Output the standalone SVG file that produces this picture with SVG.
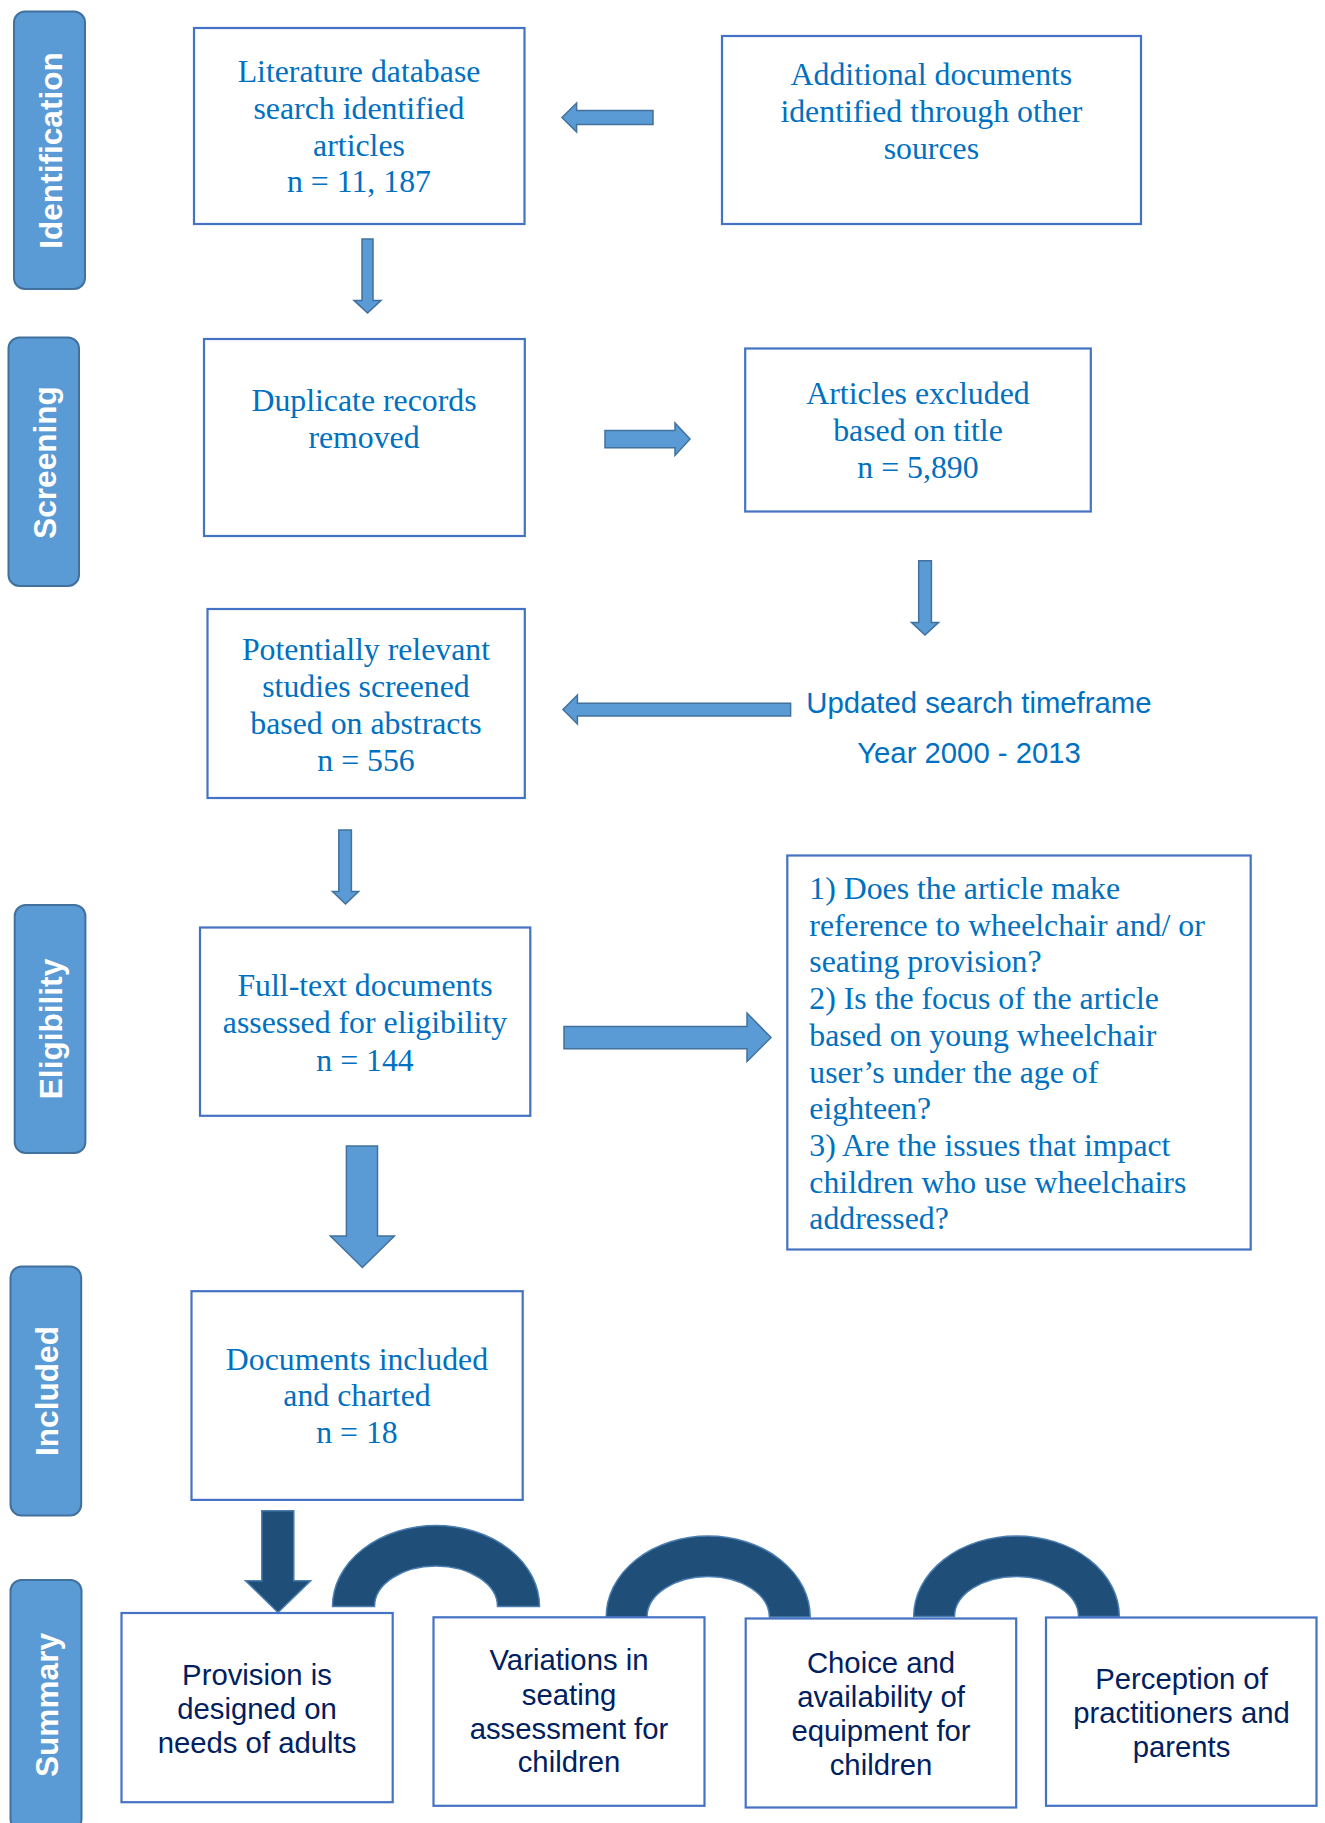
<svg xmlns="http://www.w3.org/2000/svg" width="1325" height="1823" viewBox="0 0 1325 1823">
<style>
.box{fill:#fff;stroke:#4472C4;stroke-width:2.2}
.lbl{fill:#5B9BD5;stroke:#41719C;stroke-width:2}
.lt{font-family:"Liberation Sans",Arial,sans-serif;font-weight:bold;font-size:31.6px;fill:#fff;text-anchor:middle}
.ser{font-family:"Liberation Serif","Times New Roman",serif;font-size:31.8px;fill:#0070C0;text-anchor:middle}
.serl{font-family:"Liberation Serif","Times New Roman",serif;font-size:31.8px;fill:#0070C0}
.san{font-family:"Liberation Sans",Arial,sans-serif;font-size:29.3px;fill:#0070C0}
.sum{font-family:"Liberation Sans",Arial,sans-serif;font-size:29.3px;fill:#002060;text-anchor:middle}
.arr{fill:#5B9BD5;stroke:#41719C;stroke-width:1.5}
.dark{fill:#1F4E79;stroke:#4A7EB0;stroke-width:1.5}
</style>

<g id="label-identification"><rect class="lbl" x="14" y="11.5" width="71" height="277.5" rx="11"/><text class="lt" transform="translate(61.5,150.5) rotate(-90)">Identification</text></g>
<g id="label-screening"><rect class="lbl" x="8.5" y="337.5" width="70.5" height="248.5" rx="11"/><text class="lt" transform="translate(56,462.5) rotate(-90)">Screening</text></g>
<g id="label-eligibility"><rect class="lbl" x="14.7" y="905" width="70.7" height="248" rx="11"/><text class="lt" transform="translate(62,1029) rotate(-90)">Eligibility</text></g>
<g id="label-included"><rect class="lbl" x="10.5" y="1266.5" width="70.7" height="249" rx="11"/><text class="lt" transform="translate(57.5,1391) rotate(-90)">Included</text></g>
<g id="label-summary"><rect class="lbl" x="10.5" y="1580" width="71" height="250" rx="11"/><text class="lt" transform="translate(58,1705) rotate(-90)">Summary</text></g>

<g id="connectors">
<polygon class="arr" points="562,117.5 576.6,103 576.6,110.5 653,110.5 653,124.5 576.6,124.5 576.6,132"/>
<polygon class="arr" points="362,239 373,239 373,300.4 381,300.4 367.5,313 354,300.4 362,300.4"/>
<polygon class="arr" points="605,430.5 675,430.5 675,423 690,439 675,455.4 675,447.8 605,447.8"/>
<polygon class="arr" points="918.7,560.7 931.4,560.7 931.4,622.4 938.6,622.4 925,635 911.5,622.4 918.7,622.4"/>
<polygon class="arr" points="563,709.5 577.4,695 577.4,703.2 790.6,703.2 790.6,716 577.4,716 577.4,724"/>
<polygon class="arr" points="338.8,830 351.4,830 351.4,891.6 358.6,891.6 345.5,904 332.5,891.6 338.8,891.6"/>
<polygon class="arr" points="564,1026.4 747,1026.4 747,1013 771,1037.5 747,1061.5 747,1048.8 564,1048.8"/>
<polygon class="arr" points="346.4,1146 377.5,1146 377.5,1236 394.4,1236 362.4,1267.5 330.4,1236 346.4,1236"/>
<polygon class="dark" points="261.8,1510.7 293.8,1510.7 293.8,1580.7 310.7,1580.7 278,1612.5 245.5,1580.7 261.8,1580.7"/>
<path class="dark" d="M332.5,1606.5 A103.5,81 0 0 1 539.5,1606.5 L497.5,1606.5 A61.5,40.5 0 0 0 374.5,1606.5 Z"/>
<path class="dark" d="M606.2,1617 A102,81 0 0 1 810.2,1617 L769.4,1617 A61.2,40.5 0 0 0 647,1617 Z"/>
<path class="dark" d="M913.7,1616.5 A102.8,80.5 0 0 1 1119.3,1616.5 L1078.5,1616.5 A62,40 0 0 0 954.5,1616.5 Z"/>
</g>

<g id="node-literature"><rect class="box" x="194" y="28" width="330.5" height="196"/>
<text class="ser" x="359" y="82">Literature database</text>
<text class="ser" x="359" y="118.8">search identified</text>
<text class="ser" x="359" y="155.6">articles</text>
<text class="ser" x="359" y="192.4">n = 11, 187</text></g>

<g id="node-additional"><rect class="box" x="722" y="36" width="419" height="188"/>
<text class="ser" x="931.4" y="85">Additional documents</text>
<text class="ser" x="931.4" y="121.8">identified through other</text>
<text class="ser" x="931.4" y="158.6">sources</text></g>

<g id="node-duplicate"><rect class="box" x="204" y="339" width="320.8" height="197"/>
<text class="ser" x="364" y="411">Duplicate records</text>
<text class="ser" x="364" y="447.8">removed</text></g>

<g id="node-excluded"><rect class="box" x="745.2" y="348.5" width="345.6" height="163"/>
<text class="ser" x="918" y="404">Articles excluded</text>
<text class="ser" x="918" y="441">based on title</text>
<text class="ser" x="918" y="478">n = 5,890</text></g>

<g id="node-potential"><rect class="box" x="207.5" y="609" width="317.3" height="189"/>
<text class="ser" x="366" y="660">Potentially relevant</text>
<text class="ser" x="366" y="697">studies screened</text>
<text class="ser" x="366" y="734">based on abstracts</text>
<text class="ser" x="366" y="771">n = 556</text></g>

<g id="node-timeframe">
<text class="san" x="806.3" y="712.6">Updated search timeframe</text>
<text class="san" x="857.2" y="763">Year 2000 - 2013</text></g>

<g id="node-fulltext"><rect class="box" x="200" y="927.5" width="330.3" height="188.3"/>
<text class="ser" x="365" y="996">Full-text documents</text>
<text class="ser" x="365" y="1033">assessed for eligibility</text>
<text class="ser" x="365" y="1070.5">n = 144</text></g>

<g id="node-criteria"><rect class="box" x="787.3" y="855.5" width="463.4" height="394"/>
<text class="serl" x="809.3" y="899">1) Does the article make</text>
<text class="serl" x="809.3" y="935.8">reference to wheelchair and/ or</text>
<text class="serl" x="809.3" y="972.4">seating provision?</text>
<text class="serl" x="809.3" y="1009.3">2) Is the focus of the article</text>
<text class="serl" x="809.3" y="1046">based on young wheelchair</text>
<text class="serl" x="809.3" y="1082.6">user’s under the age of</text>
<text class="serl" x="809.3" y="1119.3">eighteen?</text>
<text class="serl" x="809.3" y="1156">3) Are the issues that impact</text>
<text class="serl" x="809.3" y="1192.6">children who use wheelchairs</text>
<text class="serl" x="809.3" y="1229">addressed?</text></g>

<g id="node-included"><rect class="box" x="191.5" y="1291.2" width="331.2" height="208.7"/>
<text class="ser" x="357" y="1369.5">Documents included</text>
<text class="ser" x="357" y="1406">and charted</text>
<text class="ser" x="357" y="1443">n = 18</text></g>

<g id="node-sum1"><rect class="box" x="121.5" y="1613" width="271.2" height="189.2"/>
<text class="sum" x="257" y="1685">Provision is</text>
<text class="sum" x="257" y="1719">designed on</text>
<text class="sum" x="257" y="1753">needs of adults</text></g>

<g id="node-sum2"><rect class="box" x="433.5" y="1617.3" width="271" height="188.5"/>
<text class="sum" x="569" y="1670.4">Variations in</text>
<text class="sum" x="569" y="1704.5">seating</text>
<text class="sum" x="569" y="1738.6">assessment for</text>
<text class="sum" x="569" y="1772">children</text></g>

<g id="node-sum3"><rect class="box" x="745.7" y="1618.5" width="270.5" height="189"/>
<text class="sum" x="881" y="1673">Choice and</text>
<text class="sum" x="881" y="1707">availability of</text>
<text class="sum" x="881" y="1741">equipment for</text>
<text class="sum" x="881" y="1775">children</text></g>

<g id="node-sum4"><rect class="box" x="1046" y="1617.5" width="270.5" height="188.3"/>
<text class="sum" x="1181.5" y="1689">Perception of</text>
<text class="sum" x="1181.5" y="1723">practitioners and</text>
<text class="sum" x="1181.5" y="1757">parents</text></g>
</svg>
